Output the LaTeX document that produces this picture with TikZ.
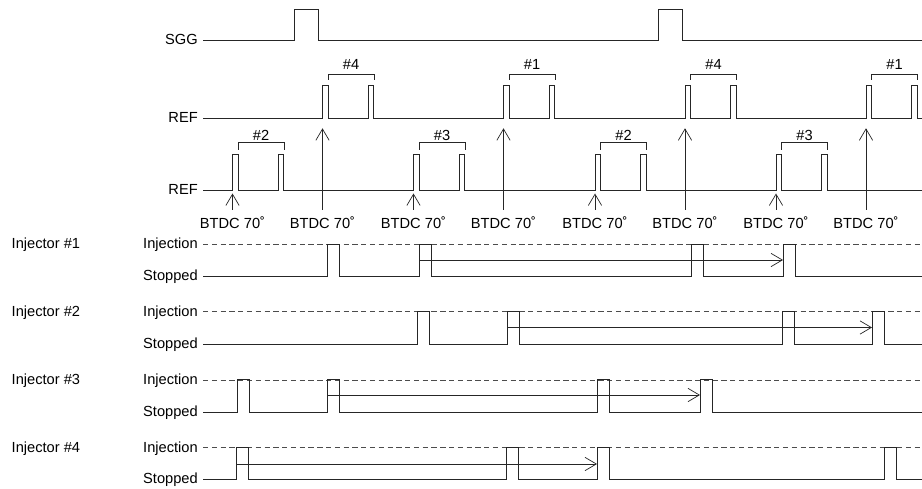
\documentclass[tikz,border=0pt]{standalone}
\usepackage{fontspec}
\setmainfont{Liberation Sans}
\usetikzlibrary{arrows.meta}

\begin{document}
\begin{tikzpicture}[x=0.03cm, y=-0.03cm,
    sig/.style={line width=0.7pt, black!85},
    lvl/.style={line width=0.6pt, black!70, dash pattern=on 4.5pt off 3pt},
    barb/.style={-{Straight Barb[length=3.4mm, width=4mm, line width=0.6pt]}},
    txt/.style={font=\fontsize{12.5}{14}\selectfont, inner sep=0pt}]
  \useasboundingbox (0,0) rectangle (922,489);
  % SGG
  \node[txt, anchor=base east] (sgg) at (198,45) {SGG};
  \draw[sig] (203,40.5) -- (294.3,40.5) |- (318.3,9) |- (658.3,40.5)
    |- (682.3,9) |- (922,40.5);
  % REF (upper)
  \node[txt, anchor=base east] (refa) at (198,123) {REF};
  \draw[sig] (203,118.3) \foreach \a in {322.5,503.5,685,866}
    {-- (\a,118.3) |- (\a+5.6,85) -- (\a+5.6,118.3)
     -- (\a+45.8,118.3) |- (\a+51.4,85) -- (\a+51.4,118.3)} -- (922,118.3);
  \foreach \a/\n [count=\k] in {322.5/4,503.5/1,685/4,866/1} {
    \draw[sig, line width=0.6pt] (\a+5.6,80) |- (\a+51.4,74) -- (\a+51.4,80);
    \node[txt, anchor=base] (cyla\k) at (\a+28.5,69.5) {\#\n};
  }
  % REF (lower)
  \node[txt, anchor=base east] (refb) at (198,194.5) {REF};
  \draw[sig] (203,190) \foreach \a in {232.5,413.5,595,776}
    {-- (\a,190) |- (\a+5.6,154) -- (\a+5.6,190)
     -- (\a+45.8,190) |- (\a+51.4,154) -- (\a+51.4,190)} -- (922,190);
  \foreach \a/\n [count=\k] in {232.5/2,413.5/3,595/2,776/3} {
    \draw[sig, line width=0.6pt] (\a+5.6,150) |- (\a+51.4,142.7) -- (\a+51.4,150);
    \node[txt, anchor=base] (cylb\k) at (\a+28.5,140.5) {\#\n};
  }
  % BTDC marks
  \foreach \x/\t [count=\k] in {232.5/193.5,322.5/128.3,413.5/193.5,503.5/128.3,
      595/193.5,685/128.3,776/193.5,866/128.3} {
    \node[txt, anchor=base] (bt\k) at (\x,228.3) {BTDC 70˚};
    \coordinate (tip\k) at (\x,\t);
    \draw[sig, line width=0.6pt, barb] ([yshift=2mm]bt\k.north) -- (tip\k);
  }
  % Injector #1
  \node[txt, anchor=base west] (inj1) at (11.5,248.5) {Injector \#1};
  \node[txt, anchor=base east] (on1) at (198,248.5) {Injection};
  \node[txt, anchor=base east] (off1) at (198,281) {Stopped};
  \draw[lvl] (203,244) -- (922,244);
  \draw[sig] (203,276.6) \foreach \p in {327,419,691,783}
    {-- (\p,276.6) |- (\p+12.3,244) -- (\p+12.3,276.6)} -- (922,276.6);
  \coordinate (s1) at (419,260);
  \coordinate (e1) at (783,260);
  \draw[sig, line width=0.6pt, barb] (s1) -- (e1);
  % Injector #2
  \node[txt, anchor=base west] (inj2) at (11.5,316.3) {Injector \#2};
  \node[txt, anchor=base east] (on2) at (198,316.3) {Injection};
  \node[txt, anchor=base east] (off2) at (198,348.8) {Stopped};
  \draw[lvl] (203,311.8) -- (922,311.8);
  \draw[sig] (203,344.4) \foreach \p in {417,507,782,872}
    {-- (\p,344.4) |- (\p+12.3,311.8) -- (\p+12.3,344.4)} -- (922,344.4);
  \coordinate (s2) at (507,327.5);
  \coordinate (e2) at (872,327.5);
  \draw[sig, line width=0.6pt, barb] (s2) -- (e2);
  % Injector #3
  \node[txt, anchor=base west] (inj3) at (11.5,384.4) {Injector \#3};
  \node[txt, anchor=base east] (on3) at (198,384.4) {Injection};
  \node[txt, anchor=base east] (off3) at (198,416.8) {Stopped};
  \draw[lvl] (203,379.9) -- (922,379.9);
  \draw[sig] (203,412.3) \foreach \p in {237,327,597,700}
    {-- (\p,412.3) |- (\p+12.3,379.9) -- (\p+12.3,412.3)} -- (922,412.3);
  \coordinate (s3) at (327,395);
  \coordinate (e3) at (700,395);
  \draw[sig, line width=0.6pt, barb] (s3) -- (e3);
  % Injector #4
  \node[txt, anchor=base west] (inj4) at (11.5,452.2) {Injector \#4};
  \node[txt, anchor=base east] (on4) at (198,452.2) {Injection};
  \node[txt, anchor=base east] (off4) at (198,483.8) {Stopped};
  \draw[lvl] (203,447.7) -- (922,447.7);
  \draw[sig] (203,479.3) \foreach \p in {236,506,597,884}
    {-- (\p,479.3) |- (\p+12.3,447.7) -- (\p+12.3,479.3)} -- (922,479.3);
  \coordinate (s4) at (236,464);
  \coordinate (e4) at (597,464);
  \draw[sig, line width=0.6pt, barb] (s4) -- (e4);
\end{tikzpicture}
\end{document}
